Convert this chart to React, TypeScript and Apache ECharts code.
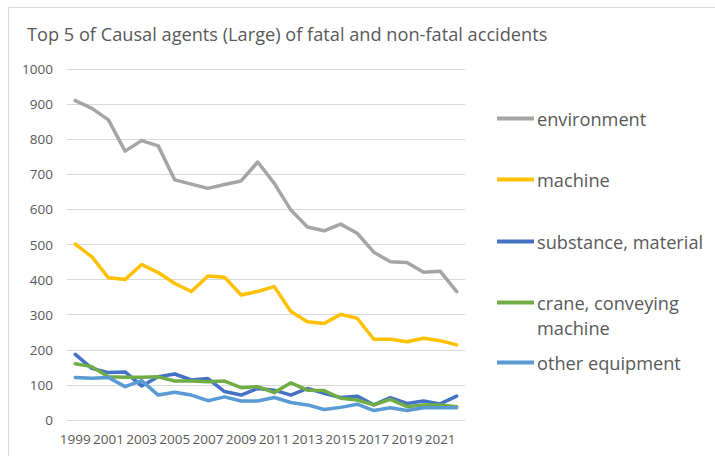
import React, { useEffect, useRef } from "react";
import * as echarts from "echarts";

const years = ["1999","2000","2001","2002","2003","2004","2005","2006","2007","2008","2009","2010","2011","2012","2013","2014","2015","2016","2017","2018","2019","2020","2021","2022"];
const environment = [910, 888, 855, 766, 796, 781, 684, 672, 660, 671, 681, 735, 674, 598, 550, 539, 558, 532, 478, 451, 449, 421, 424, 366];
const machine = [501, 465, 405, 400, 443, 420, 389, 366, 410, 407, 356, 366, 380, 309, 280, 275, 301, 290, 230, 230, 223, 233, 226, 214];
const substance = [187, 147, 135, 137, 97, 123, 131, 114, 118, 81, 71, 90, 85, 71, 90, 76, 64, 68, 43, 64, 47, 54, 46, 68];
const crane = [160, 152, 123, 122, 122, 123, 111, 111, 109, 111, 92, 95, 78, 106, 85, 84, 62, 57, 43, 59, 38, 43, 43, 38];
const otherEquipment = [121, 119, 121, 95, 112, 71, 79, 71, 55, 66, 54, 54, 64, 50, 43, 30, 36, 45, 27, 35, 27, 35, 35, 35];
const seriesNames = ["environment", "machine", "substance, material", "crane, conveying machine", "other equipment"];
const legendLabels = ["environment", "machine", "substance, material", "crane, conveying", "other equipment"];
const legendWrap = "machine";
const seriesColors = ["#A5A5A5", "#FFC000", "#4472C4", "#70AD47", "#5B9BD5"];
const seriesData = [environment, machine, substance, crane, otherEquipment];
const legendTops = [119, 180, 242, 303, 363];

const FONT = "Open Sans";
const TXT = "#595959";
const FS = 18.2;

export default function App() {
  const ref = useRef<HTMLDivElement>(null);
  useEffect(() => {
    if (!ref.current) return;
    const chart = echarts.init(ref.current, null, { renderer: "svg" });
    const legends = seriesNames.map((n, i) => ({
      show: true,
      data: [n],
      orient: "vertical",
      left: 497,
      top: legendTops[i] - 13,
      icon: "rect",
      itemWidth: 37,
      itemHeight: 4,
      itemGap: 0,
      padding: 0,
      selectedMode: false,
      formatter: () => legendLabels[i],
      textStyle: { fontFamily: FONT, fontSize: FS, color: TXT, lineHeight: 25, padding: [0, 0, 0, -2] },
    }));
    chart.setOption({
      animation: false,
      backgroundColor: "#ffffff",
      title: {
        text: "Top 5 of Causal agents (Large) of fatal and non-fatal accidents",
        left: 22,
        top: 20,
        textStyle: { fontFamily: FONT, fontSize: FS, fontWeight: "normal", color: TXT },
      },
      graphic: [
        {
          type: "rect",
          shape: { x: 8.5, y: 7.5, width: 720, height: 460 },
          style: { fill: "none", stroke: "#D9D9D9", lineWidth: 1 },
          silent: true,
        },
        {
          type: "text",
          left: 537,
          top: 328 - 12.5,
          style: { text: legendWrap, font: `${FS}px "${FONT}"`, fill: TXT, lineHeight: 25 },
          silent: true,
        },
      ],
      legend: legends,
      grid: { left: 67, right: 250, top: 69, bottom: 36, containLabel: false },
      xAxis: {
        type: "category",
        data: years,
        boundaryGap: true,
        axisLine: { show: true, lineStyle: { color: "#D9D9D9", width: 1 } },
        axisTick: { show: false },
        axisLabel: { interval: 1, fontFamily: FONT, fontSize: 13.5, color: TXT, margin: 12 },
        splitLine: { show: false },
      },
      yAxis: {
        type: "value",
        min: 0,
        max: 1000,
        interval: 100,
        axisLine: { show: false },
        axisTick: { show: false },
        axisLabel: { fontFamily: FONT, fontSize: 13.5, color: TXT, margin: 14, formatter: (v: number) => String(v) },
        splitLine: { lineStyle: { color: "#D9D9D9", width: 1 } },
      },
      series: seriesNames.map((n, i) => ({
        name: n,
        type: "line",
        data: seriesData[i],
        showSymbol: false,
        symbol: "none",
        lineStyle: { color: seriesColors[i], width: 3.5, cap: "round", join: "round" },
        itemStyle: { color: seriesColors[i] },
      })),
    });
    return () => chart.dispose();
  }, []);
  return <div ref={ref} style={{ width: 715, height: 456, position: "absolute", left: 0, top: 0 }} />;
}
